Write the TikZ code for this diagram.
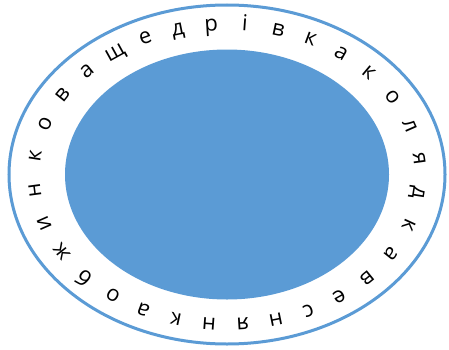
\documentclass[tikz,border=0pt]{standalone}
\usepackage{fontspec}
\setmainfont{Open Sans}
\usetikzlibrary{decorations.markings}
\definecolor{myblue}{RGB}{91,155,213}

\begin{document}
\begin{tikzpicture}[x=1pt, y=1pt]
  \useasboundingbox (0,0) rectangle (449,349);
  \coordinate (O) at (227,174.5);
  % Outer ring
  \draw[myblue, line width=3pt] (O) ellipse [x radius=218, y radius=169.5];
  % Inner disc
  \fill[myblue] (O) ellipse [x radius=162, y radius=125];
  % Letters around the ring, clockwise from the top
  \foreach \ch [count=\i from 0] in {щ,е,д,р,і,в,к,а,к,о,л,я,д,к,а,в,е,с,н,я,н,к,а,о,б,ж,и,н,к,о,в,а}
    \path[decoration={markings, mark=at position \i/32 with {
        \node[transform shape, anchor=mid, font=\fontsize{22}{22}\selectfont] (L\i) {\ch};}},
      decorate] (O) ++(125.6:190 and 147) arc[start angle=125.6, end angle=-234.4, x radius=190, y radius=147];
\end{tikzpicture}
\end{document}
